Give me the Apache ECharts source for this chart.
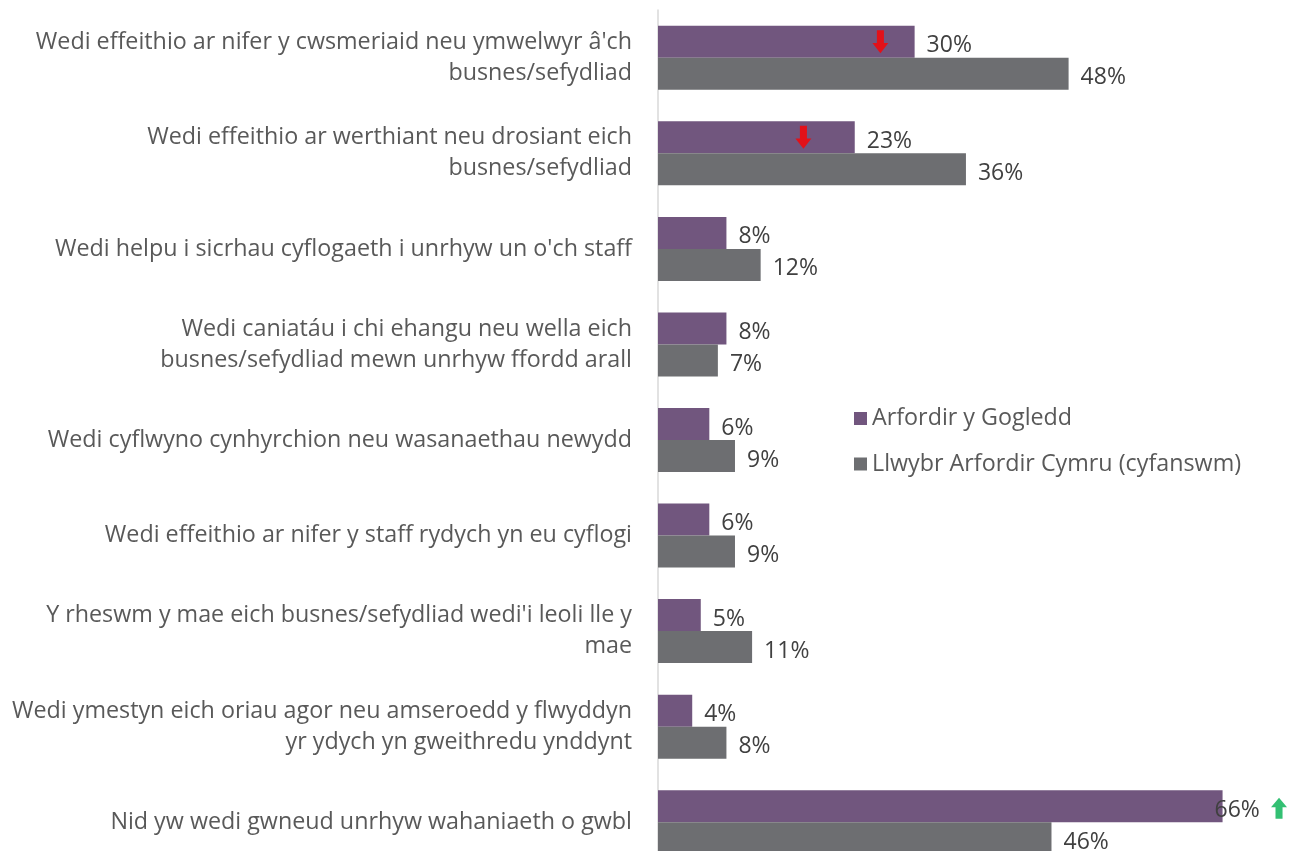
<!DOCTYPE html>
<html><head><meta charset="utf-8">
<script src="https://cdn.jsdelivr.net/npm/echarts@6/dist/echarts.min.js"></script>
<style>html,body{margin:0;padding:0;background:#fff;overflow:hidden}#c{width:1291px;height:880px}</style>
</head><body><div id="c"></div>
<script>
const categories = [
  "Wedi effeithio ar nifer y cwsmeriaid neu ymwelwyr â'ch\nbusnes/sefydliad",
  "Wedi effeithio ar werthiant neu drosiant eich\nbusnes/sefydliad",
  "Wedi helpu i sicrhau cyflogaeth i unrhyw un o'ch staff",
  "Wedi caniatáu i chi ehangu neu wella eich\nbusnes/sefydliad mewn unrhyw ffordd arall",
  "Wedi cyflwyno cynhyrchion neu wasanaethau newydd",
  "Wedi effeithio ar nifer y staff rydych yn eu cyflogi",
  "Y rheswm y mae eich busnes/sefydliad wedi'i leoli lle y\nmae",
  "Wedi ymestyn eich oriau agor neu amseroedd y flwyddyn\nyr ydych yn gweithredu ynddynt",
  "Nid yw wedi gwneud unrhyw wahaniaeth o gwbl"
];
const seriesNames = ["Arfordir y Gogledd", "Llwybr Arfordir Cymru (cyfanswm)"];
const gogledd = [30, 23, 8, 8, 6, 6, 5, 4, 66];
const cyfanswm = [48, 36, 12, 7, 9, 9, 11, 8, 46];
const downArrows = [[26, 0], [17, 1]];
const upArrows = [[72.6, 8]];

const txt = '#595959';
const valTxt = '#404040';
const font = 'Open Sans';
const chart = echarts.init(document.getElementById('c'));
const downPath = 'path://M2.8,0 L7.2,0 L7.2,5.5 L10,5.5 L5,10 L0,5.5 L2.8,5.5 Z';
const upPath = 'path://M5,0 L10,4.5 L7.2,4.5 L7.2,10 L2.8,10 L2.8,4.5 L0,4.5 Z';
const valLabel = {show: true, position: 'right', distance: 12, formatter: '{c}%', color: valTxt, fontSize: 23, fontFamily: font, offset: [0, 4]};
chart.setOption({
  animation: false,
  textStyle: {fontFamily: font},
  grid: {left: 658, top: 10, width: 74 * 8.56, height: 860, containLabel: false},
  xAxis: {type: 'value', min: 0, max: 74, show: false},
  yAxis: {
    type: 'category', data: categories, inverse: true,
    axisLine: {show: true, lineStyle: {color: '#d9d9d9', width: 1.5}},
    axisTick: {show: false},
    axisLabel: {color: txt, fontSize: 23.3, fontFamily: font, lineHeight: 31, margin: 26, align: 'right', padding: [4, 0, 0, 0]}
  },
  legend: {
    orient: 'vertical', left: 849, top: 402, itemWidth: 13, itemHeight: 13, itemGap: 22.5,
    icon: 'rect', textStyle: {color: txt, fontSize: 23.3, fontFamily: font}, data: seriesNames
  },
  series: [
    {name: seriesNames[0], type: 'bar', data: gogledd.map((v, i) => i === 8 ? {value: v, label: {offset: [-20, 4]}} : v),
     barGap: '0%', barCategoryGap: '33%', itemStyle: {color: '#71567e'}, label: valLabel},
    {name: seriesNames[1], type: 'bar', data: cyfanswm,
     barGap: '0%', barCategoryGap: '33%', itemStyle: {color: '#6d6e71'}, label: valLabel},
    {type: 'scatter', data: downArrows, symbol: downPath, symbolSize: [16, 23], symbolOffset: [0, -16],
     itemStyle: {color: '#ff0000'}, clip: false, silent: true, z: 5},
    {type: 'scatter', data: upArrows, symbol: upPath, symbolSize: [16, 21], symbolOffset: [0, -14],
     itemStyle: {color: '#00b050'}, clip: false, silent: true, z: 5}
  ]
});
</script></body></html>
